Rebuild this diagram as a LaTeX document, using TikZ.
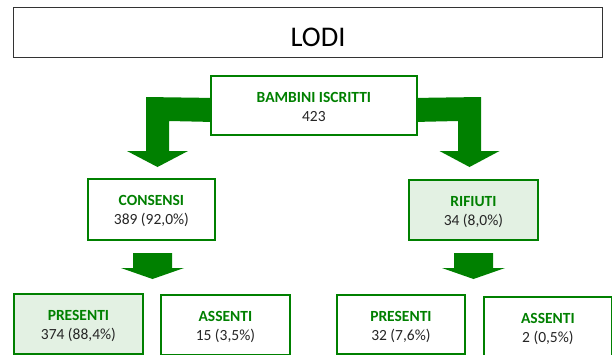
\documentclass[tikz,border=0pt]{standalone}
\usepackage{fontspec}
\setmainfont{Carlito}
\usetikzlibrary{backgrounds}
\definecolor{leaf}{RGB}{0,128,0}
\definecolor{pale}{RGB}{227,241,227}
\definecolor{ink}{RGB}{38,38,38}
\definecolor{frame}{RGB}{51,51,51}
\begin{document}
\begin{tikzpicture}[x=1pt,y=-1pt,
  databox/.style={draw=leaf, line width=1.8pt, fill=white,
    anchor=north west, inner sep=0pt},
  shaded/.style={databox, fill=pale},
  headtext/.style={anchor=base, text=leaf, inner sep=0pt,
    font=\fontsize{15.5}{18}\selectfont\bfseries},
  valtext/.style={anchor=base, text=ink, inner sep=0pt,
    font=\fontsize{15.5}{18}\selectfont},
  blockarrow/.style={fill=leaf, draw=none}]
\clip (0,0) rectangle (612,354);

% heading
\node (titlebox) [draw=frame, line width=1.4pt, anchor=north west,
  minimum width=589pt, minimum height=50pt, inner sep=0pt] at (13,7) {};
\node (title) [anchor=base, font=\fontsize{28.5}{30}\selectfont, text=black] at (318,46) {LODI};

% boxes of the tree
\node (root)  [databox, minimum width=206pt, minimum height=59pt] at (210,75) {};
\node (cons)  [databox, minimum width=127pt, minimum height=61pt] at (87,178) {};
\node (rif)   [shaded,  minimum width=129pt, minimum height=60pt] at (408,179) {};
\node (presA) [shaded,  minimum width=129pt, minimum height=60pt] at (13,293) {};
\node (assA)  [databox, minimum width=129pt, minimum height=60pt] at (160,294) {};
\node (presB) [databox, minimum width=128pt, minimum height=59pt] at (336,294) {};
\node (assB)  [databox, minimum width=128pt, minimum height=60pt] at (483,296) {};

% two text lines in each box: heading and count
\foreach \b/\h/\v in {root/BAMBINI ISCRITTI/423,
                      cons/CONSENSI/389 (92{,}0\%),
                      rif/RIFIUTI/34 (8{,}0\%),
                      presA/PRESENTI/374 (88{,}4\%),
                      assA/ASSENTI/15 (3{,}5\%),
                      presB/PRESENTI/32 (7{,}6\%),
                      assB/ASSENTI/2 (0{,}5\%)}{
  \node (\b-head) [headtext] at ([yshift=-27pt]\b.north) {\h};
  \node (\b-val)  [valtext]  at ([yshift=-46.5pt]\b.north) {\v};
}

\begin{pgfonlayer}{background}
  \fill[white] (0,0) rectangle (612,354);
  % bent arrows leaving the top box
  \fill[blockarrow] ([yshift=7.5pt]root.west) -- (146,97) -- (146,151) -- (127,151)
    -- (157.5,167) -- (188,151) -- (169,151) -- (169,121) -- ([yshift=-16.5pt]root.west) -- cycle;
  \fill[blockarrow] ([yshift=7.5pt]root.east) -- (481,97) -- (481,151) -- (499.5,151)
    -- (469.5,167) -- (439.5,151) -- (458,151) -- (458,121) -- ([yshift=-16.5pt]root.east) -- cycle;
  % straight arrows below the second level
  \fill[blockarrow] (133,253) -- (172,253) -- (172,268) -- (184,268) -- (152.5,279)
    -- (121,268) -- (133,268) -- cycle;
  \fill[blockarrow] (454,253) -- (493,253) -- (493,268) -- (505,268) -- (473.5,279)
    -- (442,268) -- (454,268) -- cycle;
\end{pgfonlayer}
\end{tikzpicture}
\end{document}
